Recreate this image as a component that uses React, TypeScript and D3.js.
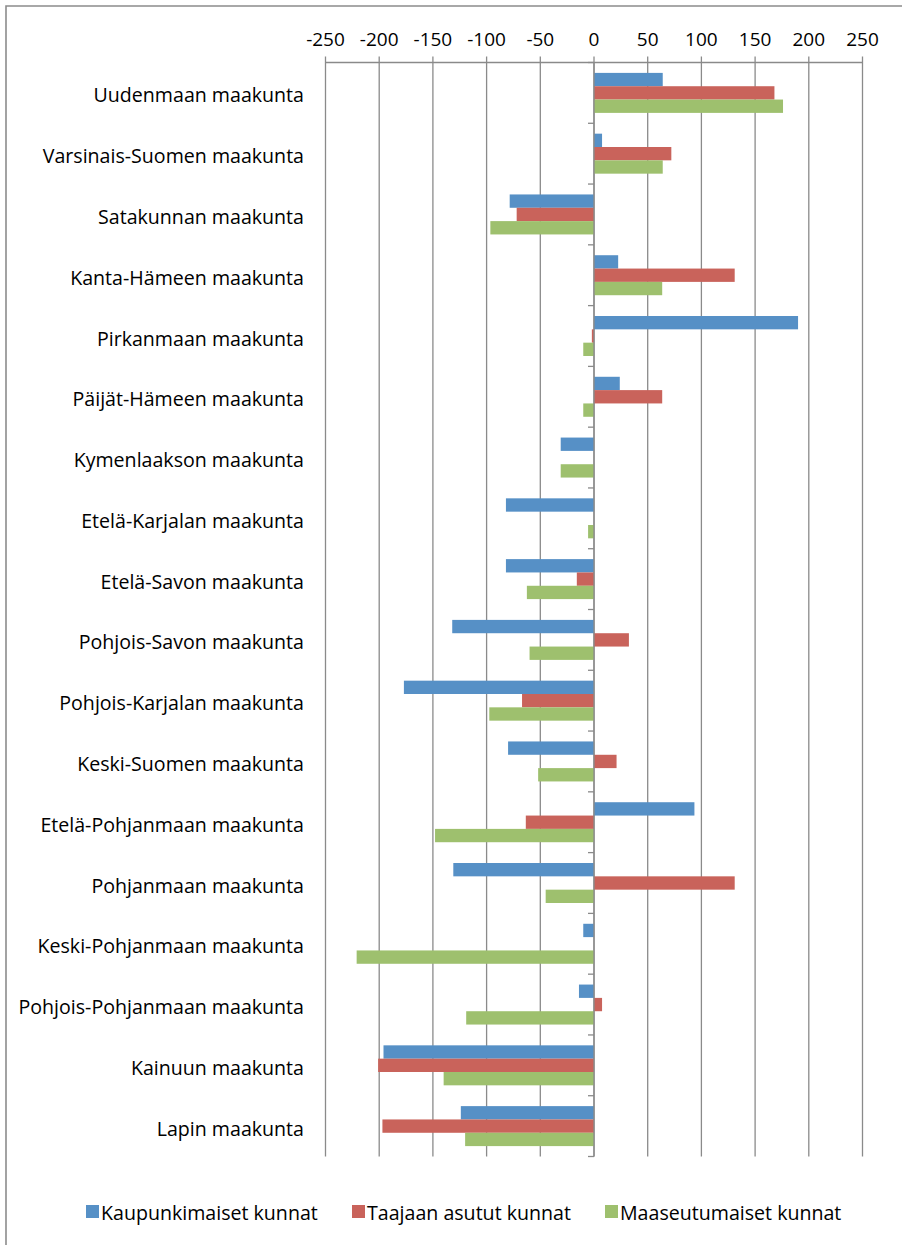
import React from "react";
import * as d3 from "d3";

const categories = [
  "Uudenmaan maakunta",
  "Varsinais-Suomen maakunta",
  "Satakunnan maakunta",
  "Kanta-Hämeen maakunta",
  "Pirkanmaan maakunta",
  "Päijät-Hämeen maakunta",
  "Kymenlaakson maakunta",
  "Etelä-Karjalan maakunta",
  "Etelä-Savon maakunta",
  "Pohjois-Savon maakunta",
  "Pohjois-Karjalan maakunta",
  "Keski-Suomen maakunta",
  "Etelä-Pohjanmaan maakunta",
  "Pohjanmaan maakunta",
  "Keski-Pohjanmaan maakunta",
  "Pohjois-Pohjanmaan maakunta",
  "Kainuun maakunta",
  "Lapin maakunta",
];

const seriesNames = ["Kaupunkimaiset kunnat", "Taajaan asutut kunnat", "Maaseutumaiset kunnat"];
const seriesColors = ["#5690C6", "#C9635B", "#9EC06E"];

const kaupunkimaiset = [64, 7.5, -78.5, 22.5, 190, 24, -31, -82, -82, -132, -177, -80, 93.5, -131, -10, -14, -196, -124];
const taajaan = [168, 72, -72, 131, -2, 63.5, 0, 0, -16, 32.5, -67, 21, -63.5, 131, 0, 7.5, -201, -197];
const maaseutumaiset = [176, 64, -96.5, 63.5, -10, -10, -31, -5.5, -62.5, -60, -97.5, -52, -148, -45, -221, -119, -140, -120];

const seriesValues = [kaupunkimaiset, taajaan, maaseutumaiset];
const xTicks = [-250, -200, -150, -100, -50, 0, 50, 100, 150, 200, 250];

const FONT = "'Open Sans', Lato, sans-serif";

export default function App() {
  const W = 902;
  const H = 1245;
  const top = 62.5;
  const bottom = 1156.5;
  const x = d3.scaleLinear().domain([-250, 250]).range([325.5, 862.5]);
  const y = d3.scaleBand<string>().domain(categories).range([top, bottom]).paddingInner(0).paddingOuter(0);
  const bw = y.bandwidth();
  const inner = d3.scaleBand<number>().domain([0, 1, 2]).range([bw * 0.171, bw * 0.829]).padding(0);
  const x0 = x(0);
  const grid = "#8a8a8a";

  const legendItems = [
    { sq: 86, tx: 101 },
    { sq: 352, tx: 367 },
    { sq: 605, tx: 620 },
  ];

  return (
    <svg width={W} height={H} style={{ position: "absolute", left: 0, top: 0, display: "block" }}>
      <rect x={0} y={0} width={W} height={H} fill="#fff" />
      {/* chart border */}
      <path d={`M6,${H + 5} V6 H${W + 5}`} fill="none" stroke="#8c8c8c" strokeWidth={1.6} />

      {/* gridlines + top ticks */}
      {xTicks.map((t) => (
        <line key={"g" + t} x1={x(t)} x2={x(t)} y1={top - 6} y2={bottom} stroke={grid} strokeWidth={1.3} />
      ))}
      <line x1={x(-250)} x2={x(250)} y1={top} y2={top} stroke={grid} strokeWidth={1.3} />
      {xTicks.map((t) => (
        <text key={"t" + t} x={x(t)} y={46} textAnchor="middle" fontFamily={FONT} fontSize={19} fill="#000">
          {t}
        </text>
      ))}

      {/* bars */}
      {categories.map((c, i) => (
        <g key={c}>
          {seriesValues.map((vals, s) => {
            const v = vals[i];
            if (v === 0) return null;
            const xa = x(Math.min(0, v));
            const xb = x(Math.max(0, v));
            return (
              <rect
                key={s}
                x={xa}
                y={(y(c) as number) + (inner(s) as number)}
                width={xb - xa}
                height={inner.bandwidth()}
                fill={seriesColors[s]}
              />
            );
          })}
        </g>
      ))}

      {/* vertical category axis at zero */}
      <line x1={x0} x2={x0} y1={top} y2={bottom} stroke={grid} strokeWidth={1.3} />
      {[...categories.map((c) => y(c) as number), bottom].map((yy, i) => (
        <line key={"ct" + i} x1={x0 - 6} x2={x0} y1={yy} y2={yy} stroke={grid} strokeWidth={1.3} />
      ))}

      {/* category labels */}
      {categories.map((c) => (
        <text
          key={"l" + c}
          x={304}
          y={(y(c) as number) + bw / 2 + 9.5}
          textAnchor="end"
          fontFamily={FONT}
          fontSize={19.6}
          fill="#000"
        >
          {c}
        </text>
      ))}

      {/* legend */}
      {seriesNames.map((n, i) => (
        <g key={n}>
          <rect x={legendItems[i].sq} y={1205} width={13} height={13} fill={seriesColors[i]} />
          <text x={legendItems[i].tx} y={1220} fontFamily={FONT} fontSize={19.6} fill="#000">
            {n}
          </text>
        </g>
      ))}
    </svg>
  );
}
